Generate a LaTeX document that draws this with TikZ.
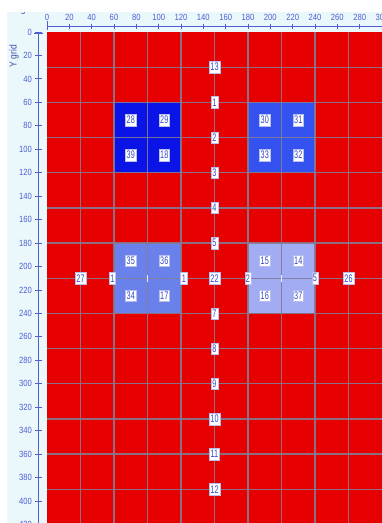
\documentclass[tikz,border=0pt]{standalone}
\usepackage{fontspec}
\setmainfont{Liberation Sans}
\newfontfamily\lblfont[FakeStretch=0.66]{Liberation Sans}
\newfontfamily\axfont[FakeStretch=0.85]{Liberation Sans}
\definecolor{panelbg}{HTML}{EAF7FB}
\definecolor{axisblue}{HTML}{4F5FD2}
\definecolor{lblblue}{HTML}{3446C8}
\definecolor{gridred}{HTML}{E60000}
\definecolor{blueA}{HTML}{0A14E6}
\definecolor{blueB}{HTML}{3352F0}
\definecolor{blueC}{HTML}{6A80EA}
\definecolor{blueD}{HTML}{A2ACF2}
\definecolor{gridgray}{HTML}{857A92}
\definecolor{linkgray}{HTML}{7C82AE}
\tikzset{
  axisline/.style={draw=axisblue, line width=0.9pt},
  axlabel/.style={text=axisblue, font=\axfont\fontsize{9}{9}\selectfont, inner sep=0pt},
  gridline/.style={draw=gridgray, line width=1.3pt, opacity=0.9},
  cellbox/.style={fill=white, draw=lblblue!35, line width=0.3pt, text=lblblue,
    font=\lblfont\fontsize{11}{11}\selectfont, inner xsep=1.3pt, inner ysep=0pt,
    minimum height=11.5pt},
  linkline/.style={draw=linkgray, line width=0.9pt, dash pattern=on 2pt off 1.5pt},
  centermark/.style={draw=white!85!linkgray, line width=0.9pt},
  titletext/.style={text=axisblue!80!black, font=\axfont\fontsize{10}{10}\selectfont, inner sep=0pt}
}
\begin{document}
\begin{tikzpicture}[x=1pt,y=-1pt]
\useasboundingbox (0,0) rectangle (382,523);
\fill[white] (0,0) rectangle (382,523);
\fill[panelbg] (7,12) rectangle (382,523);
% axis titles
\begin{scope}
  \clip (7,12) rectangle (382,60);
  \node[titletext] (xtitle) at (24,10) {X grid};
\end{scope}
\node[titletext, rotate=90] (ytitle) at (14,56) {Y grid};
% x axis
\begin{scope}[shift={(47,0)}, x=1.1167pt]
  \draw[axisline] (0,26) -- (300,26);
  \draw[axisline] (0,21) -- (0,30);
  \foreach \u in {0,20,...,300} {
    \draw[axisline] (\u,23.5) -- (\u,28.5);
    \node[axlabel] (xl\u) at (\u,17) {\u};
  }
\end{scope}
% y axis
\begin{scope}[shift={(0,32)}, y=-1.1725pt]
  \draw[axisline] (38,1) -- (38,425);
  \draw[axisline] (34,1) -- (42.5,1);
  \foreach \v in {0,20,...,420} {
    \draw[axisline] (35,\v) -- (42,\v);
    \node[axlabel, anchor=east] (yl\v) at (32,\v) {\v};
  }
\end{scope}
% main grid
\begin{scope}[shift={(47,32)}, x=1.1167pt, y=-1.1725pt]
  \fill[gridred] (0,0) rectangle (300,425);
  \fill[blueA] (60,60) rectangle (120,120);
  \fill[blueB] (180,60) rectangle (240,120);
  \fill[blueC] (60,180) rectangle (120,240);
  \fill[blueD] (180,180) rectangle (240,240);
  \foreach \gx in {30,60,...,270} \draw[gridline] (\gx,0) -- (\gx,425);
  \foreach \gy in {30,60,...,420} \draw[gridline] (0,\gy) -- (300,\gy);
  % cell labels
  \node[cellbox] (c28) at (75,75) {28};
  \node[cellbox] (c29) at (105,75) {29};
  \node[cellbox] (c39) at (75,105) {39};
  \node[cellbox] (c18) at (105,105) {18};
  \node[cellbox] (c30) at (195,75) {30};
  \node[cellbox] (c31) at (225,75) {31};
  \node[cellbox] (c33) at (195,105) {33};
  \node[cellbox] (c32) at (225,105) {32};
  \node[cellbox] (c35) at (75,195) {35};
  \node[cellbox] (c36) at (105,195) {36};
  \node[cellbox] (c34) at (75,225) {34};
  \node[cellbox] (c17) at (105,225) {17};
  \node[cellbox] (c15) at (195,195) {15};
  \node[cellbox] (c14) at (225,195) {14};
  \node[cellbox] (c16) at (195,225) {16};
  \node[cellbox] (c37) at (225,225) {37};
  % row y = 210
  \coordinate (m1) at (90,210);
  \coordinate (m2) at (210,210);
  \node[cellbox] (r27) at (30,210) {27};
  \node[cellbox] (r1a) at (58.5,210) {1};
  \node[cellbox] (r1b) at (122.5,210) {1};
  \node[cellbox] (r2) at (180,210) {2};
  \node[cellbox] (r5) at (240,210) {5};
  \node[cellbox] (r26) at (270,210) {26};
  \draw[linkline] (r1a) -- (m1) -- (r1b);
  \draw[linkline] (r2) -- (m2) -- (r5);
  \draw[centermark] ([yshift=-3.5pt]m1) -- ([yshift=3.5pt]m1);
  \draw[centermark] ([yshift=-3.5pt]m2) -- ([yshift=3.5pt]m2);
  % column x = 150
  \node[cellbox] (v13) at (150,30) {13};
  \node[cellbox] (v1) at (150,60) {1};
  \node[cellbox] (v2) at (150,90) {2};
  \node[cellbox] (v3) at (150,120) {3};
  \node[cellbox] (v4) at (150,150) {4};
  \node[cellbox] (v5) at (150,180) {5};
  \node[cellbox] (v22) at (150,210) {22};
  \node[cellbox] (v7) at (150,240) {7};
  \node[cellbox] (v8) at (150,270) {8};
  \node[cellbox] (v9) at (150,300) {9};
  \node[cellbox] (v10) at (150,330) {10};
  \node[cellbox] (v11) at (150,360) {11};
  \node[cellbox] (v12) at (150,390) {12};
\end{scope}
\end{tikzpicture}
\end{document}
